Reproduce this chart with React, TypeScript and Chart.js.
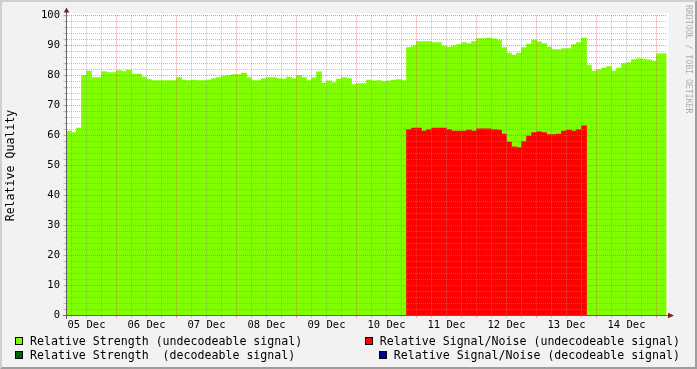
import { useEffect, useRef } from 'react';
import { Chart, registerables } from 'chart.js';

Chart.register(...registerables);

// ---------- data ----------
const SERIES_LABELS = [
  'Relative Strength (undecodeable signal)',
  'Relative Signal/Noise (undecodeable signal)',
  'Relative Strength  (decodeable signal)',
  'Relative Signal/Noise (decodeable signal)',
];
const SERIES_COLORS = ['#7fff00', '#ff0000', '#006400', '#00008b'];

const DAY_LABELS = ['05 Dec', '06 Dec', '07 Dec', '08 Dec', '09 Dec', '10 Dec', '11 Dec', '12 Dec', '13 Dec', '14 Dec'];

// hours counted from 05 Dec 00:00
const START_HOUR = 4;
const END_HOUR = 244;
const STEP_HOURS = 2;

const STRENGTH_UNDECODEABLE: (number | null)[] = [
  61.5, 61, 62.5, 80, 81.5, 79.3, 79.3, 81.3, 81, 81,
  81.6, 81.3, 81.8, 80.5, 80.5, 79.5, 78.6, 78.3, 78.3, 78.3,
  78.3, 78.3, 79.3, 78.5, 78.3, 78.5, 78.3, 78.3, 78.5, 79,
  79.3, 79.8, 80, 80.3, 80.3, 80.8, 79.3, 78.3, 78.3, 79,
  79.3, 79.3, 79, 78.8, 79.5, 79, 80, 79.3, 78.3, 79.2,
  81.2, 77.5, 78.2, 77.6, 78.8, 79.3, 79, 77, 77.3, 77.3,
  78.5, 78.2, 78.3, 78, 78.2, 78.5, 78.6, 78.3, 89.3, 89.8,
  91.3, 91.3, 91.3, 91, 91, 89.8, 89.5, 89.8, 90.3, 91,
  90.6, 91.3, 92.3, 92.3, 92.5, 92.2, 91.8, 89.3, 87.5, 86.8,
  87.5, 89.3, 90.5, 91.8, 91.2, 90.6, 89.5, 88.6, 88.6, 89,
  89, 90.3, 91, 92.5, 83.5, 81.5, 82, 82.5, 83, 81.5,
  82.5, 84, 84.3, 85.3, 85.6, 85.5, 85.2, 84.8, 87.2, 87.3,
];

const SNR_UNDECODEABLE_VALUES = [
  62, 62.5, 62.5, 61.5, 62, 62.5, 62.5, 62.5, 62, 61.5,
  61.5, 61.5, 61.8, 61.5, 62.2, 62.2, 62.2, 62, 61.8, 60.5,
  57.8, 56.2, 56, 58, 59.8, 61, 61.2, 61, 60.3, 60.3,
  60.5, 61.5, 61.8, 61.5, 62, 63.2,
];
const SNR_UNDECODEABLE: (number | null)[] = [
  ...Array(68).fill(null),
  ...SNR_UNDECODEABLE_VALUES,
  ...Array(16).fill(null),
];
const STRENGTH_DECODEABLE: (number | null)[] = [];
const SNR_DECODEABLE: (number | null)[] = [];

const Y_MIN = 0;
const Y_MAX = 100;
const Y_MINOR_STEP = 2;
const Y_MAJOR_STEP = 10;
const X_MINOR_STEP = 6;
const X_MAJOR_STEP = 24;

// ---------- helpers ----------
const toPoints = (vals: (number | null)[]) =>
  vals.map((v, i) => ({ x: START_HOUR + i * STEP_HOURS + STEP_HOURS / 2, y: v }));

const MONO = '"DejaVu Sans Mono", monospace';
const MINOR_GRID = 'rgba(140,140,140,0.55)';
const MAJOR_GRID = 'rgba(222,79,79,0.6)';

const decor = {
  id: 'rrdDecor',
  beforeDraw(chart: any) {
    const { ctx, width, height, chartArea: a } = chart;
    ctx.save();
    ctx.fillStyle = '#f2f2f2';
    ctx.fillRect(0, 0, width, height);
    ctx.fillStyle = '#cfcfcf';
    ctx.beginPath();
    ctx.moveTo(0, 0); ctx.lineTo(width, 0); ctx.lineTo(width - 2, 2);
    ctx.lineTo(2, 2); ctx.lineTo(2, height - 2); ctx.lineTo(0, height);
    ctx.closePath(); ctx.fill();
    ctx.fillStyle = '#9e9e9e';
    ctx.beginPath();
    ctx.moveTo(width, 0); ctx.lineTo(width, height); ctx.lineTo(0, height);
    ctx.lineTo(2, height - 2); ctx.lineTo(width - 2, height - 2); ctx.lineTo(width - 2, 2);
    ctx.closePath(); ctx.fill();
    ctx.fillStyle = '#ffffff';
    ctx.fillRect(a.left, a.top - 2, a.right - a.left + 2, a.bottom - a.top + 2);
    ctx.restore();
  },
  afterDraw(chart: any) {
    const { ctx, chartArea: a, width } = chart;
    ctx.save();
    // axes
    ctx.strokeStyle = '#606060';
    ctx.lineWidth = 1;
    ctx.beginPath();
    ctx.moveTo(a.left, a.top - 4); ctx.lineTo(a.left, a.bottom + 3.5);
    ctx.moveTo(a.left - 3.5, a.bottom); ctx.lineTo(a.right + 3, a.bottom);
    ctx.stroke();
    // arrows
    ctx.fillStyle = '#801f1f';
    ctx.beginPath();
    ctx.moveTo(a.left - 2.8, a.top - 3); ctx.lineTo(a.left + 2.8, a.top - 3); ctx.lineTo(a.left, a.top - 8);
    ctx.closePath(); ctx.fill();
    ctx.beginPath();
    ctx.moveTo(a.right + 1.5, a.bottom - 2.8); ctx.lineTo(a.right + 1.5, a.bottom + 2.8); ctx.lineTo(a.right + 7.5, a.bottom);
    ctx.closePath(); ctx.fill();

    // legend (rrdtool style: 2 per line, first left, second right-justified)
    ctx.font = `11.6px ${MONO}`;
    ctx.textBaseline = 'alphabetic';
    ctx.textAlign = 'left';
    const ds = chart.data.datasets;
    const rows = [[0, 1], [2, 3]];
    const baselines = [344.5, 358.5];
    const rightEdge = width - 17;
    rows.forEach((row, r) => {
      row.forEach((idx, c) => {
        const label = ds[idx].label as string;
        const w = ctx.measureText(label).width;
        const tx = c === 0 ? 30 : rightEdge - w;
        const sx = Math.round(tx - 15);
        const sy = Math.round(baselines[r] - 7.5);
        ctx.fillStyle = ds[idx].backgroundColor;
        ctx.fillRect(sx, sy, 8, 8);
        ctx.strokeStyle = '#000';
        ctx.lineWidth = 1;
        ctx.strokeRect(sx + 0.5, sy + 0.5, 7, 7);
        ctx.fillStyle = '#000';
        ctx.fillText(label, tx, baselines[r]);
      });
    });

    // watermark
    ctx.translate(688.5, 5);
    ctx.rotate(Math.PI / 2);
    ctx.font = `8.2px ${MONO}`;
    ctx.fillStyle = 'rgba(0,0,0,0.3)';
    ctx.textBaseline = 'middle';
    ctx.fillText('RRDTOOL / TOBI OETIKER', 0, 0);
    ctx.restore();
  },
};

export default function App() {
  const ref = useRef<HTMLCanvasElement>(null);
  useEffect(() => {
    const canvas = ref.current;
    if (!canvas) return;
    const xTicks: number[] = [];
    for (let h = X_MINOR_STEP; h < END_HOUR; h += X_MINOR_STEP) xTicks.push(h);
    const yTicks: number[] = [];
    for (let v = Y_MIN; v <= Y_MAX; v += Y_MINOR_STEP) yTicks.push(v);

    const seriesData = [STRENGTH_UNDECODEABLE, SNR_UNDECODEABLE, STRENGTH_DECODEABLE, SNR_DECODEABLE];

    const chart = new Chart(canvas, {
      type: 'bar',
      data: {
        datasets: seriesData.map((vals, i) => ({
          label: SERIES_LABELS[i],
          data: toPoints(vals) as any,
          backgroundColor: SERIES_COLORS[i],
          borderWidth: 0,
          order: i === 1 ? 1 : 2,
        })),
      },
      options: {
        responsive: false,
        animation: false,
        devicePixelRatio: 1,
        layout: { padding: { left: 0, top: 15.5, right: 30.5, bottom: 0 } },
        datasets: { bar: { grouped: false, barPercentage: 1, categoryPercentage: 1 } },
        plugins: { legend: { display: false }, tooltip: { enabled: false } },
        scales: {
          x: {
            type: 'linear',
            min: START_HOUR,
            max: END_HOUR,
            offset: false,
            afterFit: (s: any) => { s.height = 53.5; },
            afterBuildTicks: (s: any) => { s.ticks = xTicks.map((v) => ({ value: v })); },
            grid: {
              z: 1,
              offset: false,
              color: (c: any) => (c.tick && c.tick.value % X_MAJOR_STEP === 0 ? MAJOR_GRID : MINOR_GRID),
              tickLength: 2,
            },
            border: { display: false, dash: [1, 1] },
            ticks: {
              autoSkip: false,
              maxRotation: 0,
              padding: 1,
              color: '#000',
              font: { family: MONO, size: 10.5 },
              callback: (value: any) => {
                const h = Number(value);
                return h % X_MAJOR_STEP === X_MAJOR_STEP / 2 ? DAY_LABELS[Math.floor(h / X_MAJOR_STEP)] : '';
              },
            },
          },
          y: {
            min: Y_MIN,
            max: Y_MAX,
            afterFit: (s: any) => { s.width = 66.5; },
            afterBuildTicks: (s: any) => { s.ticks = yTicks.map((v) => ({ value: v })); },
            grid: {
              z: 1,
              color: (c: any) => (c.tick && c.tick.value % Y_MAJOR_STEP === 0 ? MAJOR_GRID : MINOR_GRID),
              tickLength: 3,
            },
            border: { display: false, dash: [1, 1] },
            title: {
              display: true,
              text: 'Relative Quality',
              color: '#000',
              font: { family: MONO, size: 11.6 },
              padding: { top: 4.5, bottom: 0 },
            },
            ticks: {
              autoSkip: false,
              padding: 3.5,
              color: '#000',
              font: { family: MONO, size: 10.5 },
              callback: (value: any) => (Number(value) % Y_MAJOR_STEP === 0 ? String(value) : ''),
            },
          },
        },
      },
      plugins: [decor],
    } as any);
    return () => chart.destroy();
  }, []);

  return (
    <div style={{ position: 'absolute', left: 0, top: 0, width: 697, height: 369 }}>
      <canvas ref={ref} width={697} height={369} style={{ display: 'block', width: 697, height: 369 }} />
    </div>
  );
}
